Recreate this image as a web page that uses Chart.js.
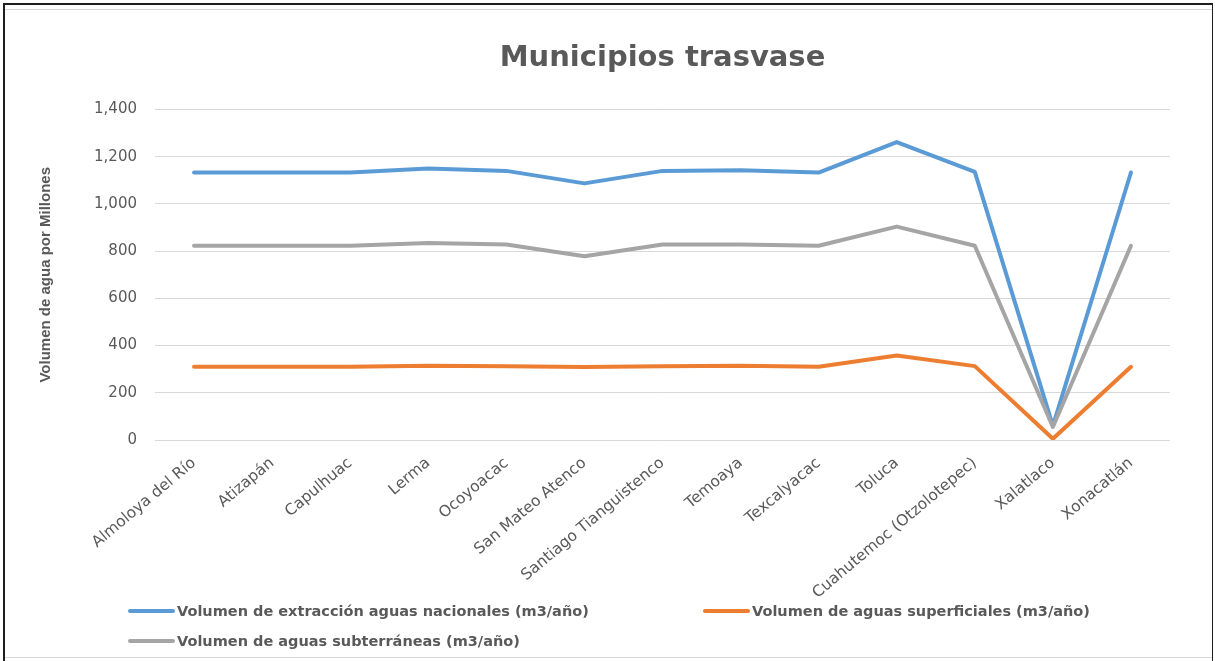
<!DOCTYPE html>
<html>
<head>
<meta charset="utf-8">
<title>Municipios trasvase</title>
<script src="https://cdn.jsdelivr.net/npm/chart.js@4"></script>
<style>
  html, body { margin: 0; padding: 0; background: #fff; overflow: hidden; }
  #wrap { position: relative; width: 1215px; height: 661px; }
  #chart { position: absolute; left: 0; top: 0; }
  .frame { position: absolute; pointer-events: none; box-sizing: border-box; }
  #outer { left: 3px; top: 3px; width: 1210px; height: 658px; border-left: 2px solid #1e1e1e; border-top: 2px solid #1e1e1e; border-right: 1px solid #1e1e1e; }
  #inner { left: 5px; top: 9px; width: 1207px; height: 649px; border-top: 1px solid #d9d9d9; border-bottom: 1px solid #d9d9d9; }
  #legend { position: absolute; left: 128px; top: 596px; display: grid; grid-template-columns: 575px 575px; grid-auto-rows: 30px; }
  .item { display: flex; align-items: center; font: bold 14.5px "DejaVu Sans", sans-serif; color: #595959; white-space: nowrap; }
  .item span.sw { display: inline-block; width: 47px; height: 4px; border-radius: 2px; margin-right: 2px; }
</style>
</head>
<body>
<div id="wrap">
  <canvas id="chart" width="1215" height="661"></canvas>
  <div id="legend"></div>
  <div class="frame" id="outer"></div>
  <div class="frame" id="inner"></div>
</div>
<script>
// datos (millones de m3/año)
const municipios = ['Almoloya del Río', 'Atizapán', 'Capulhuac', 'Lerma', 'Ocoyoacac', 'San Mateo Atenco',
  'Santiago Tianguistenco', 'Temoaya', 'Texcalyacac', 'Toluca', 'Cuahutemoc (Otzolotepec)', 'Xalatlaco', 'Xonacatlán'];
const extraccion = [1133, 1133, 1133, 1150, 1140, 1087, 1140, 1143, 1133, 1262, 1136, 60, 1133];
const superficiales = [310, 310, 310, 315, 312, 309, 312, 315, 310, 358, 313, 5, 310];
const subterraneas = [823, 823, 823, 835, 828, 778, 828, 828, 823, 904, 823, 55, 823];
const yTicks = [0, 200, 400, 600, 800, 1000, 1200, 1400];

const textColor = '#595959';
const font = 'DejaVu Sans';

const serie = (label, data, color, order) => ({
    label: label,
    data: data,
    borderColor: color,
    backgroundColor: color,
    borderWidth: 4,
    pointRadius: 0,
    tension: 0,
    borderCapStyle: 'round',
    borderJoinStyle: 'round',
    order: order // el ultimo de Excel queda encima
});

const ctx = document.getElementById('chart').getContext('2d');
const chart = new Chart(ctx, {
    type: 'line',
    data: {
        labels: municipios,
        datasets: [
            serie('Volumen de extracción aguas nacionales (m3/año)', extraccion, '#5B9BD5', 3),
            serie('Volumen de aguas superficiales (m3/año)', superficiales, '#ED7D31', 2),
            serie('Volumen de aguas subterráneas (m3/año)', subterraneas, '#A5A5A5', 1)
        ]
    },
    options: {
        responsive: false,
        animation: false,
        devicePixelRatio: 1,
        locale: 'en-US',
        layout: { padding: { left: 36, right: 45, top: 0, bottom: 0 } },
        plugins: {
            legend: { display: false }, // leyenda en HTML, abajo
            tooltip: { enabled: false },
            title: {
                display: true,
                fullSize: false,
                text: 'Municipios trasvase',
                color: textColor,
                font: { family: font, size: 29, weight: 'bold' },
                padding: { top: 40.6, bottom: 34.1 }
            }
        },
        scales: {
            x: {
                offset: true,
                grid: { display: false },
                border: { display: false },
                ticks: {
                    autoSkip: false,
                    minRotation: 40,
                    maxRotation: 40,
                    padding: 6,
                    color: textColor,
                    font: { family: font, size: 15.5 }
                },
                afterFit: (scale) => { scale.height = 221; }
            },
            y: {
                min: yTicks[0],
                max: yTicks[yTicks.length - 1],
                afterBuildTicks: (scale) => { scale.ticks = yTicks.map(v => ({ value: v })); },
                grid: { color: '#d9d9d9', lineWidth: 1, drawTicks: false },
                border: { display: false },
                ticks: {
                    padding: 18,
                    color: textColor,
                    font: { family: font, size: 15 },
                    callback: (v) => v.toLocaleString('en-US')
                },
                title: {
                    display: true,
                    text: 'Volumen de agua por Millones',
                    color: textColor,
                    font: { family: 'Liberation Sans', size: 15, weight: 'bold' },
                    padding: { top: 1, bottom: 0 }
                },
                afterFit: (scale) => { scale.width = 119; }
            }
        }
    }
});

// leyenda
const legend = document.getElementById('legend');
chart.data.datasets.forEach((ds) => {
    const item = document.createElement('div');
    item.className = 'item';
    const sw = document.createElement('span');
    sw.className = 'sw';
    sw.style.background = ds.borderColor;
    item.appendChild(sw);
    item.appendChild(document.createTextNode(ds.label));
    legend.appendChild(item);
});
</script>
</body>
</html>
